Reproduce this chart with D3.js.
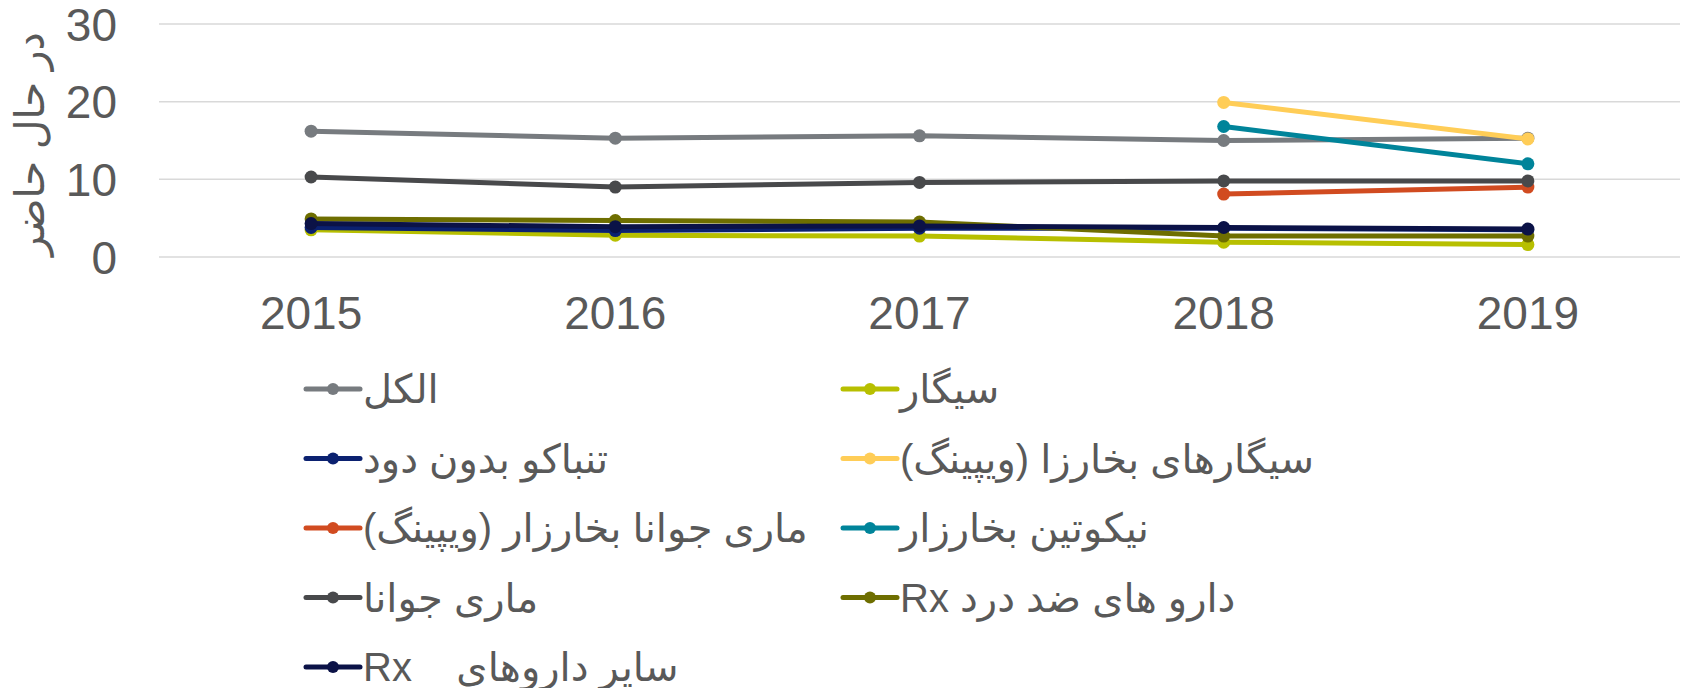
<!DOCTYPE html>
<html lang="fa">
<head>
<meta charset="utf-8"/>
<title>Line chart</title>
<style>
    body { margin: 0; background: #fff; }
    svg { display: block; font-family: "Liberation Sans", Arial, "DejaVu Sans", sans-serif; }
    .grid line { stroke: #d9d9d9; stroke-width: 1.5; }
    .tick-label { fill: #595959; font-size: 46px; }
    .legend text { fill: #595959; font-size: 40px; white-space: pre; }
</style>
</head>
<body>
<div id="chart"></div>
<script src="https://cdn.jsdelivr.net/npm/d3@7"></script>
<script>
    var years = ["2015", "2016", "2017", "2018", "2019"];
    var yTicks = [0, 10, 20, 30];
    var yTitle = "در حال حاضر";

    var seriesNames = [
        "الكل",
        "سیگار",
        "تنباکو بدون دود",
        "سیگارهای بخارزا (ویپینگ)",
        "ماری جوانا بخارزار (ویپینگ)",
        "نیکوتین بخارزار",
        "ماری جوانا",
        "دارو های ضد درد Rx",
        "سایر داروهای    Rx"
    ];
    var seriesColors = ["#777b7f", "#b7bf00", "#0b2170", "#ffcd57", "#d14b20", "#00849a", "#48494b", "#6e6e00", "#0b1247"];

    // null = no value for that year
    var alcohol      = [16.2, 15.3, 15.6, 15.0, 15.3];
    var cigars       = [3.5, 2.8, 2.7, 1.9, 1.6];
    var smokeless    = [3.8, 3.4, 3.7, 3.7, 3.5];
    var vapingNic    = [null, null, null, 19.9, 15.2];
    var vapingMj     = [null, null, null, 8.1, 9.0];
    var nicVapor     = [null, null, null, 16.8, 12.0];
    var marijuana    = [10.3, 9.0, 9.6, 9.8, 9.8];
    var painRx       = [4.9, 4.7, 4.5, 2.7, 2.7];
    var otherRx      = [4.3, 3.9, 4.0, 3.8, 3.6];

    var seriesValues = [alcohol, cigars, smokeless, vapingNic, vapingMj, nicVapor, marijuana, painRx, otherRx];

    var W = 1684, H = 688;
    var svg = d3.select("#chart").append("svg")
        .attr("width", W).attr("height", H);

    var x = d3.scaleBand().domain(years).range([159, 1680]);
    var y = d3.scaleLinear().domain([0, 30]).range([257, 24]);
    var cx = function (yr) { return x(yr) + x.bandwidth() / 2; };

    // gridlines
    svg.append("g").attr("class", "grid")
        .selectAll("line").data(yTicks).enter().append("line")
        .attr("x1", 159).attr("x2", 1680)
        .attr("y1", function (d) { return y(d); })
        .attr("y2", function (d) { return y(d); });

    // y labels
    svg.append("g").selectAll("text").data(yTicks).enter().append("text")
        .attr("class", "tick-label")
        .attr("x", 117)
        .attr("y", function (d) { return y(d); })
        .attr("dy", "0.36em")
        .attr("text-anchor", "end")
        .text(function (d) { return d; });

    // x labels
    svg.append("g").selectAll("text").data(years).enter().append("text")
        .attr("class", "tick-label")
        .attr("x", function (d) { return cx(d); })
        .attr("y", 329)
        .attr("text-anchor", "middle")
        .text(function (d) { return d; });

    // y title
    svg.append("text")
        .attr("transform", "translate(44,144) rotate(-90)")
        .attr("text-anchor", "middle")
        .attr("direction", "rtl")
        .style("fill", "#595959")
        .style("font-size", "41px")
        .text(yTitle);

    var line = d3.line()
        .defined(function (d) { return d.v != null; })
        .x(function (d) { return cx(d.yr); })
        .y(function (d) { return y(d.v); });

    seriesValues.forEach(function (vals, i) {
        var pts = vals.map(function (v, j) { return { yr: years[j], v: v }; });
        var g = svg.append("g");
        g.append("path")
            .attr("d", line(pts))
            .attr("fill", "none")
            .attr("stroke", seriesColors[i])
            .attr("stroke-width", 5)
            .attr("stroke-linejoin", "round");
        g.selectAll("circle").data(pts.filter(function (p) { return p.v != null; }))
            .enter().append("circle")
            .attr("cx", function (p) { return cx(p.yr); })
            .attr("cy", function (p) { return y(p.v); })
            .attr("r", 6.5)
            .attr("fill", seriesColors[i]);
    });

    // legend, two columns
    var legX = [306, 843], legY0 = 389, legStep = 69.5;
    var leg = svg.append("g").attr("class", "legend");
    seriesNames.forEach(function (name, i) {
        var lx = legX[i % 2], ly = legY0 + Math.floor(i / 2) * legStep;
        leg.append("line")
            .attr("x1", lx).attr("x2", lx + 54)
            .attr("y1", ly).attr("y2", ly)
            .attr("stroke", seriesColors[i])
            .attr("stroke-width", 5)
            .attr("stroke-linecap", "round");
        leg.append("circle")
            .attr("cx", lx + 27).attr("cy", ly).attr("r", 6)
            .attr("fill", seriesColors[i]);
        leg.append("text")
            .attr("x", lx + 57)
            .attr("y", ly)
            .attr("dy", "0.35em")
            .attr("direction", "rtl")
            .attr("text-anchor", "end")
            .attr("xml:space", "preserve")
            .text(name);
    });
</script>
</body>
</html>
